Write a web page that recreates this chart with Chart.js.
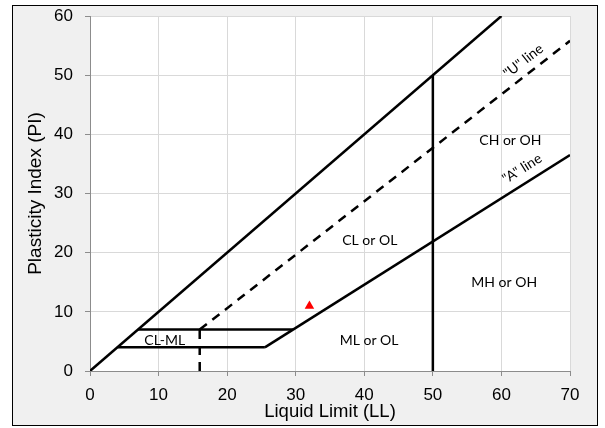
<!DOCTYPE html>
<html>
<head>
<meta charset="utf-8">
<script src="https://cdn.jsdelivr.net/npm/chart.js@4"></script>
<style>
  html, body { margin: 0; padding: 0; background: #fff; }
  #wrap { width: 605px; height: 428px; }
</style>
</head>
<body>
<div id="wrap"><canvas id="myChart" width="605" height="428"></canvas></div>
<script>
// axis ticks
const llTicks = [0, 10, 20, 30, 40, 50, 60, 70];
const piTicks = [0, 10, 20, 30, 40, 50, 60];

// boundary lines (LL, PI)
const diagLL = [0, 60],     diagPI = [0, 60];
const uLineLL = [16, 70],   uLinePI = [7, 55.8];
const aLineLL = [25.5, 70], aLinePI = [4, 36.5];
const ll50LL = [50, 50],    ll50PI = [0, 50];
const ll16LL = [16, 16],    ll16PI = [0, 7];
const pi7LL = [7, 29.6],    pi7PI = [7, 7];
const pi4LL = [4, 25.5],    pi4PI = [4, 4];

// sample point
const sampleLL = [32];
const samplePI = [11];

// zone labels
const zoneNames = ["CL-ML", "ML or OL", "CL or OL", "MH or OH", "CH or OH"];
const zoneLL = [10.9, 40.7, 40.8, 60.4, 61.3];
const zonePI = [5.2, 5.2, 22, 14.9, 38.9];

// line labels, rotated along their line
const lineNames = ['"U" line', '"A" line'];
const lineLabelLL = [63.2, 63.0];
const lineLabelPI = [52.4, 34.2];

const pts = (xs, ys) => xs.map((x, i) => ({ x: x, y: ys[i] }));

const solid = (xs, ys) => ({
    data: pts(xs, ys),
    showLine: true,
    borderColor: "#000",
    borderWidth: 2.5,
    pointRadius: 0,
});

const dashed = (xs, ys) => ({
    data: pts(xs, ys),
    showLine: true,
    borderColor: "#000",
    borderWidth: 2.5,
    borderDash: [9, 7],
    pointRadius: 0,
});

const frame = {
    id: "frame",
    beforeDraw(chart) {
        const ctx = chart.ctx;
        const a = chart.chartArea;
        ctx.save();
        ctx.fillStyle = "#f0f0f0";
        ctx.fillRect(12, 5, 585, 420);
        ctx.strokeStyle = "#000";
        ctx.lineWidth = 1;
        ctx.strokeRect(12.5, 5.5, 585, 420);
        ctx.fillStyle = "#fff";
        ctx.fillRect(a.left, a.top, a.right - a.left, a.bottom - a.top);
        ctx.restore();
    },
};

const labels = {
    id: "labels",
    afterDatasetsDraw(chart) {
        const ctx = chart.ctx;
        const xs = chart.scales.x;
        const ys = chart.scales.y;
        ctx.save();
        ctx.fillStyle = "#000";
        ctx.font = "14px Lato, 'Open Sans', sans-serif";
        ctx.textAlign = "center";
        ctx.textBaseline = "middle";
        for (let i = 0; i < zoneNames.length; i++) {
            ctx.fillText(zoneNames[i], xs.getPixelForValue(zoneLL[i]), ys.getPixelForValue(zonePI[i]));
        }
        const slopes = [
            [uLineLL, uLinePI],
            [aLineLL, aLinePI],
        ];
        for (let i = 0; i < lineNames.length; i++) {
            const [lx, ly] = slopes[i];
            const dx = xs.getPixelForValue(lx[1]) - xs.getPixelForValue(lx[0]);
            const dy = ys.getPixelForValue(ly[1]) - ys.getPixelForValue(ly[0]);
            ctx.save();
            ctx.translate(xs.getPixelForValue(lineLabelLL[i]), ys.getPixelForValue(lineLabelPI[i]));
            ctx.rotate(Math.atan2(dy, dx));
            ctx.fillText(lineNames[i], 0, 0);
            ctx.restore();
        }
        ctx.restore();
    },
};

const axisFont = "'Liberation Sans', Arial, sans-serif";

const config = {
    type: "scatter",
    data: {
        datasets: [
            solid(diagLL, diagPI),
            dashed(uLineLL, uLinePI),
            solid(aLineLL, aLinePI),
            solid(ll50LL, ll50PI),
            dashed(ll16LL, ll16PI),
            solid(pi7LL, pi7PI),
            solid(pi4LL, pi4PI),
            {
                data: pts(sampleLL, samplePI),
                pointStyle: "triangle",
                pointRadius: 5.5,
                backgroundColor: "#ff0000",
                borderColor: "#ff0000",
                borderWidth: 0,
            },
        ],
    },
    options: {
        responsive: false,
        animation: false,
        layout: { padding: { left: 12, right: 35, top: 16, bottom: 5 } },
        plugins: {
            legend: { display: false },
            tooltip: { enabled: false },
        },
        scales: {
            x: {
                type: "linear",
                min: 0,
                max: 70,
                afterBuildTicks: (s) => { s.ticks = llTicks.map((v) => ({ value: v })); },
                afterFit: (s) => { s.height = 52; s.paddingLeft = 0; s.paddingRight = 0; },
                grid: { color: "#d9d9d9", tickColor: "#8c8c8c", tickLength: 5, lineWidth: 1 },
                border: { color: "#8c8c8c", width: 1 },
                ticks: { color: "#000", font: { size: 17, family: axisFont }, padding: 9, maxRotation: 0 },
                title: {
                    display: true,
                    text: "Liquid Limit (LL)",
                    color: "#000",
                    font: { size: 18.5, family: axisFont },
                    padding: { top: 0, bottom: 0 },
                },
            },
            y: {
                type: "linear",
                min: 0,
                max: 60,
                afterBuildTicks: (s) => { s.ticks = piTicks.map((v) => ({ value: v })); },
                afterFit: (s) => { s.width = 78; s.paddingTop = 0; s.paddingBottom = 0; },
                grid: { color: "#d9d9d9", tickColor: "#8c8c8c", tickLength: 5, lineWidth: 1 },
                border: { color: "#8c8c8c", width: 1 },
                ticks: { color: "#000", font: { size: 17, family: axisFont }, padding: 12 },
                title: {
                    display: true,
                    text: "Plasticity Index (PI)",
                    color: "#000",
                    font: { size: 19, family: axisFont },
                    padding: { top: 12, bottom: 0 },
                },
            },
        },
    },
    plugins: [frame, labels],
};

const myChart = new Chart(document.getElementById("myChart"), config);
</script>
</body>
</html>
